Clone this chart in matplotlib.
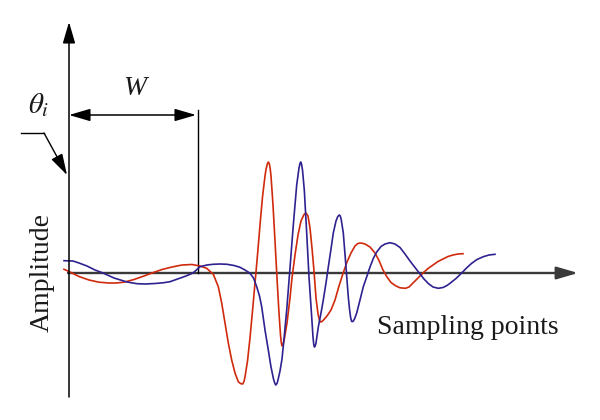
import matplotlib
matplotlib.use("Agg")
import matplotlib.pyplot as plt

plt.rcParams["font.family"] = ["Liberation Serif", "DejaVu Serif"]
plt.rcParams["mathtext.fontset"] = "stix"

# red trace (sampling point, amplitude)
red_x = [-5, 0, 3, 10, 20, 30, 40, 47, 55, 65, 75, 83, 93, 103, 113, 123,
         131, 137.7, 144.3, 149.3, 152.7, 156, 159.3, 162.7, 166, 169.3, 171.5, 173.7,
         175, 176, 178.5, 181, 183.5, 186, 188.5, 191, 193.5, 196, 197, 198.3, 199.3,
         200.3, 201.2, 202, 204, 206, 208, 210, 211.5, 212.2, 212.9, 213.8, 215,
         218, 221, 223, 226, 229, 232, 235, 237,
         239, 241, 243, 245, 247, 249, 250.5, 251.5, 253, 255,
         258, 262, 266, 270, 274, 278, 282, 286, 288.5, 291, 293.5,
         296, 301, 306, 310, 314, 318, 322, 327, 331, 336.5,
         340, 344, 349, 354, 359, 364, 369, 374, 379, 384, 389, 394]
red_y = [3.7, 1.5, 0, -3.5, -7, -9.2, -10, -10, -9.2, -6.5, -3, 0, 3.5, 6, 8, 8.5,
         7, 4.7, -1.3, -13.7, -30, -50, -70, -87, -100, -108.7, -110.6, -111,
         -108.5, -104, -88, -65, -38, -10, 18, 48, 76, 97, 103.5, 109, 111,
         109.3, 104.5, 97, 68, 32, -5, -40, -62, -69, -72.8, -72, -68,
         -50, -25, -5, 18, 38, 52, 58.5, 60,
         57, 45, 25, 2, -25, -41, -47.3, -49, -48.5, -46.5,
         -43, -37, -27, -13, -0.5, 11, 20, 27, 29.3, 30, 29.7,
         29, 26, 20, 12.5, 3, -4, -9.5, -13, -14.8, -15.3,
         -14, -10, -5, 0, 4.5, 8, 11.5, 14, 16.5, 18, 19, 19.3]

# blue trace
blue_x = [-5, 4, 10, 18, 26, 34, 45, 58, 68, 76, 86, 94, 101, 110, 117, 124,
          131, 138, 144, 151, 158, 165, 171, 176, 181, 184.5, 187.7, 190.5, 192.7,
          196, 199.3, 202, 204.5, 205.7, 206.7, 208,
          209, 211, 213, 215, 217.7, 221, 224.3, 227.7, 230, 231, 231.7, 232.6,
          233.5, 235.3, 237.7, 240, 242.7, 244, 244.7, 245.3, 246,
          247, 249.3, 252, 254.3, 257, 259.3, 262, 264.3, 267, 268.8, 270.3, 271.3,
          272.3, 274.3, 277, 279.3, 280.5, 281.7, 282.7, 284, 285.5,
          287.7, 291, 294.3, 298, 301, 304.5, 307.7, 312, 316, 321,
          326, 331, 336, 341, 346, 350.3, 355, 359.3, 364, 369.3,
          374, 378, 381, 387, 392.7, 397.5, 402.7, 408, 414.3, 420, 426]
blue_y = [12.3, 12, 10, 7, 3, 0, -5, -9, -10.7, -11, -10.5, -9.8, -8.7, -5.5, -3, 0,
          6.3, 8, 8.7, 9, 8.7, 7.5, 5.7, 3, -0.3, -5, -13.7, -23, -33.7,
          -57, -77, -94, -106, -110, -112, -110.5,
          -107, -98, -86, -66, -37, 5, 48, 88, 105, 109.5, 111, 108.5,
          103, 83, 40, -4, -44, -64, -71, -74, -73.5,
          -70, -54, -40, -27, -10, 6, 24, 40, 52, 56.5, 58, 57,
          53, 40, 6, -24, -36, -45, -48.5, -48.5, -46,
          -40, -27, -13.7, -3, 6, 15, 21, 26.5, 29, 30.3,
          29, 25.5, 19, 12, 5.5, 0, -6, -10.5, -14, -15.3,
          -14.5, -12.5, -10.3, -5.5, 0, 5, 9.7, 13.5, 16.3, 18, 18.7]

window_end = 129   # sample where the window W ends
axis_top = 251
axis_bottom = -124
axis_right = 509

fig = plt.figure(figsize=(6, 4.2), dpi=100)
ax = fig.add_axes([0, 0, 1, 1])
ax.set_xlim(-69, 531)
ax.set_ylim(-147, 273)
ax.axis("off")

ax.plot(red_x, red_y, color="#d02a0c", lw=1.2, zorder=3,
        solid_joinstyle="round")
ax.plot(blue_x, blue_y, color="#2e2290", lw=1.2, zorder=3,
        solid_joinstyle="round")

head = "-|>,head_length=1.3,head_width=0.38"
# axes with arrow heads
ax.annotate("", xy=(0, axis_top), xytext=(0, axis_bottom),
            arrowprops=dict(arrowstyle=head, color="black", lw=1.1,
                            shrinkA=0, shrinkB=0, mutation_scale=10))
ax.annotate("", xy=(axis_right, 0), xytext=(-1, 0),
            arrowprops=dict(arrowstyle=head, color="#3a3a3a", lw=1.7,
                            shrinkA=0, shrinkB=0, mutation_scale=10), zorder=2)

# window W
ax.annotate("", xy=(window_end - 2, 158), xytext=(0, 158),
            arrowprops=dict(arrowstyle="<|-|>,head_length=1.3,head_width=0.38",
                            color="black", lw=1.1, shrinkA=0, shrinkB=0,
                            mutation_scale=10))
ax.plot([window_end, window_end], [0, 163], color="black", lw=1.0)
ax.text(66, 178, "W", fontsize=20, fontstyle="italic", ha="center",
        va="baseline", color="#1a1a1a")

# theta_i leader
ax.plot([-48, -25], [140, 140], color="black", lw=1.0)
ax.annotate("", xy=(-2, 98), xytext=(-25, 140),
            arrowprops=dict(arrowstyle=head, color="black", lw=1.0,
                            shrinkA=0, shrinkB=0, mutation_scale=10))
ax.text(-41, 160, r"$\theta_i$", fontsize=21, ha="left", va="baseline",
        color="#1a1a1a")

ax.text(-27, 0, "Amplitude", fontsize=20, rotation=90, ha="center",
        va="center", color="#1a1a1a")
ax.text(308, -61, "Sampling points", fontsize=20, ha="left", va="baseline",
        color="#1a1a1a")

fig.savefig("out.png", dpi=100)
